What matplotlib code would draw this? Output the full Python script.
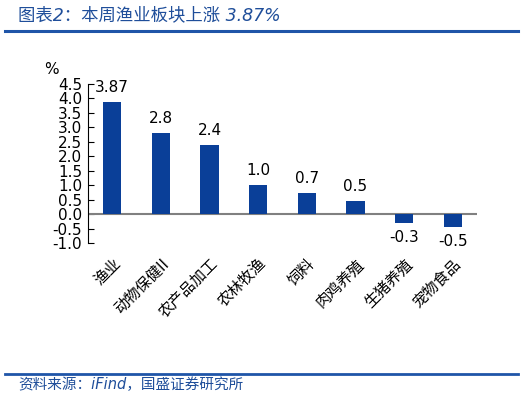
import matplotlib.pyplot as plt
from matplotlib.lines import Line2D

plt.rcParams['font.family'] = ['Noto Sans CJK SC', 'DejaVu Sans']

categories = ['渔业', '动物保健II', '农产品加工', '农林牧渔', '饲料', '肉鸡养殖', '生猪养殖', '宠物食品']
values = [3.87, 2.8, 2.4, 1.0, 0.74, 0.45, -0.3, -0.45]
labels = ['3.87', '2.8', '2.4', '1.0', '0.7', '0.5', '-0.3', '-0.5']
yticks = [-1.0, -0.5, 0.0, 0.5, 1.0, 1.5, 2.0, 2.5, 3.0, 3.5, 4.0, 4.5]

blue = '#0a3f98'
title_blue = '#1f4e9a'

fig = plt.figure(figsize=(5.26, 3.98), dpi=100)
ax = fig.add_axes([0.167, 0.389, 0.74, 0.40])

x = list(range(len(categories)))
ax.bar(x, values, width=0.38, color=blue, zorder=3)
ax.axhline(0, color='#808080', lw=1.5, zorder=2)

for xi, v, lab in zip(x, values, labels):
    if v >= 0:
        ax.text(xi, v + 0.25, lab, ha='center', va='bottom', fontsize=11, family='DejaVu Sans')
    else:
        ax.text(xi, v - 0.25, lab, ha='center', va='top', fontsize=11, family='DejaVu Sans')

ax.set_xlim(-0.5, len(categories) - 0.5)
ax.set_ylim(-1.0, 4.5)
ax.set_yticks(yticks)
ax.set_yticklabels([f'{t:.1f}' for t in yticks], fontsize=11, family='DejaVu Sans')
ax.tick_params(axis='y', direction='in', length=4, width=0.8, pad=4)
ax.set_xticks([])
for s in ['top', 'right', 'bottom']:
    ax.spines[s].set_visible(False)
ax.spines['left'].set_linewidth(0.8)

for xi, c in zip(x, categories):
    ax.annotate(c, xy=(xi + 0.12, -1.0), xycoords='data', xytext=(0, -13),
                textcoords='offset points', rotation=45, ha='right', va='center',
                rotation_mode='anchor', fontsize=11)

fig.text(0.098, 0.815, '%', fontsize=11, family='DejaVu Sans', ha='center')

fig.text(0.034, 0.962, '图表2：本周渔业板块上涨 3.87%', fontsize=12.5, color=title_blue,
         style='italic', va='center', family=['DejaVu Sans', 'Noto Sans CJK SC'])
fig.add_artist(Line2D([0.01, 0.985], [0.922, 0.922], color='#1f55a8', lw=2.2))
fig.add_artist(Line2D([0.01, 0.985], [0.061, 0.061], color='#1f55a8', lw=2.0))
fig.text(0.034, 0.034, '资料来源：iFind，国盛证券研究所', fontsize=10.5, color=title_blue,
         style='italic', va='center', family=['DejaVu Sans', 'Noto Sans CJK SC'])

fig.savefig('out.png', dpi=100)
